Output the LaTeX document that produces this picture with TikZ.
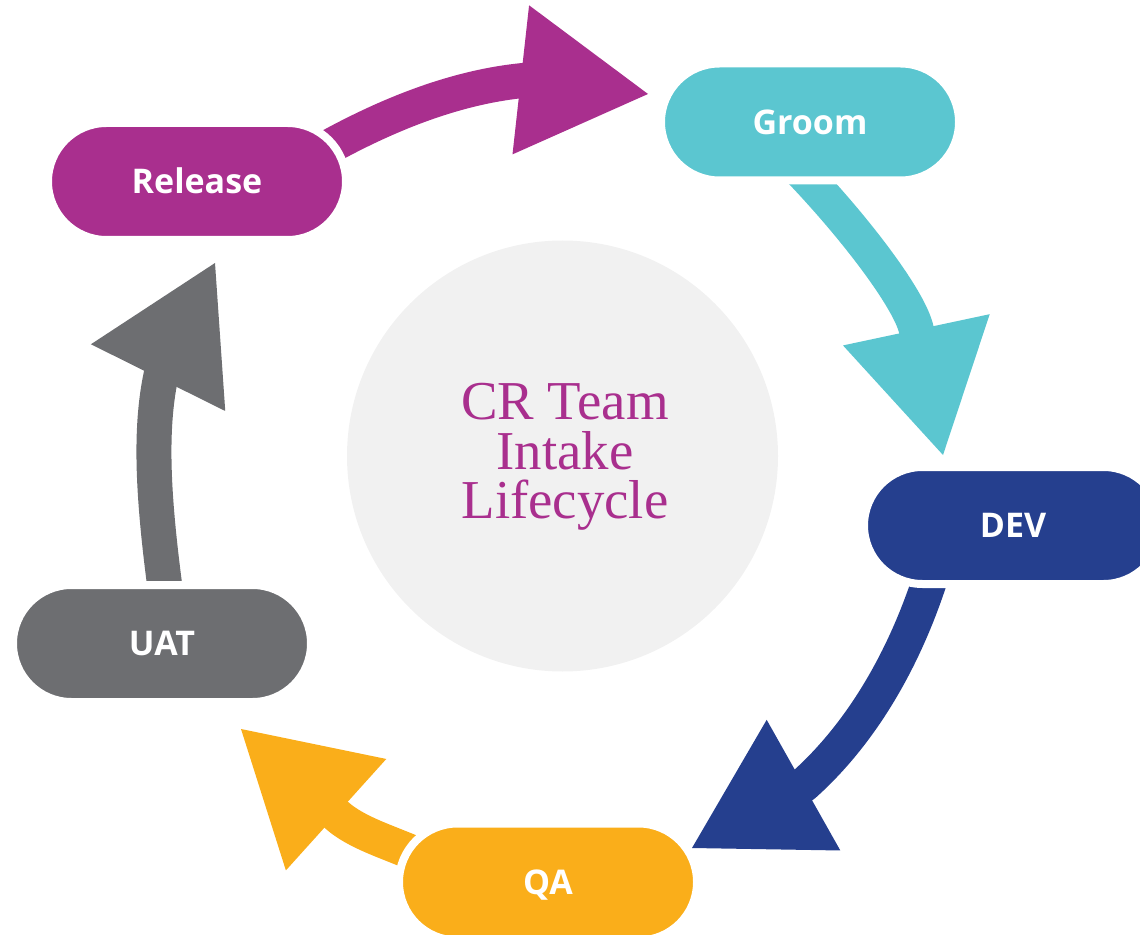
\documentclass[tikz,border=0pt]{standalone}
\usepackage{fontspec}
\usetikzlibrary{arrows.meta,bending,shapes.misc,backgrounds,calc}
\newfontfamily\stagefont{Open Sans}
\newfontfamily\hubfont{Liberation Serif}
\definecolor{releasecol}{HTML}{A92F8E}
\definecolor{groomcol}{HTML}{5BC6D0}
\definecolor{devcol}{HTML}{253F8E}
\definecolor{uatcol}{HTML}{6D6E71}
\definecolor{qacol}{HTML}{FAAE1A}
\definecolor{hubcol}{HTML}{F1F1F1}
\begin{document}
\begin{tikzpicture}[x=0.5pt,y=-0.5pt,
    stage node/.style={rounded rectangle,draw=white,line width=4pt,minimum width=149pt,minimum height=58.5pt,inner sep=0pt,text=white,font=\stagefont\bfseries\fontsize{17}{17}\selectfont,text height=12.3pt,text depth=0pt},
    flow/.style={line width=17.5pt,line cap=round,-{Triangle[length=64pt,width=75pt,line width=0pt,#1]}},
    flow/.default=flex]
    \useasboundingbox (0,0) rectangle (1140,935);
    \node [stage node, fill=releasecol] (release) at (197,181.5) {Release};
    \node [stage node, fill=groomcol] (groom) at (810,122) {Groom};
    \node [stage node, fill=devcol] (dev) at (1013,525.5) {DEV};
    \node [stage node, fill=uatcol] (uat) at (162,643.5) {UAT};
    \node [stage node, fill=qacol] (qa) at (548,882) {QA};
    \coordinate (groom tip) at (648,94);
    \coordinate (dev tip) at (943,455);
    \coordinate (qa tip) at (692,848);
    \coordinate (uat tip) at (241,729);
    \coordinate (release tip) at (215,263);
    \begin{scope}[on background layer]
        \node [circle, fill=hubcol, minimum size=215.5pt, inner sep=0pt] (hub) at (562.5,456) {};
        \draw [flow, releasecol] ($(release)+(114,-24.5)$) .. controls +(103.9,-60) and +(-113.5,-39.1) .. (groom tip);
        \draw [flow=quick, groomcol] ($(groom)+(-15,43)$) .. controls +(60,62) and +(-33,-155) .. (dev tip);
        \draw [flow, devcol] ($(dev)+(-77,34.5)$) .. controls +(-42,144) and +(115.3,-33.1) .. (qa tip);
        \draw [flow=quick, qacol] ($(qa)+(-115,-20)$) .. controls +(-36,-18) and +(118.3,106.6) .. (uat tip);
        \draw [flow, uatcol] ($(uat)+(6,-33.5)$) .. controls +(-24.8,-178.2) and +(-68.2,86.9) .. (release tip);
    \end{scope}
    \node [text=releasecol, align=center, font=\hubfont\fontsize{27.4}{24.75}\selectfont] (title) at (565,457) {CR Team\\Intake\\Lifecycle};
\end{tikzpicture}
\end{document}
